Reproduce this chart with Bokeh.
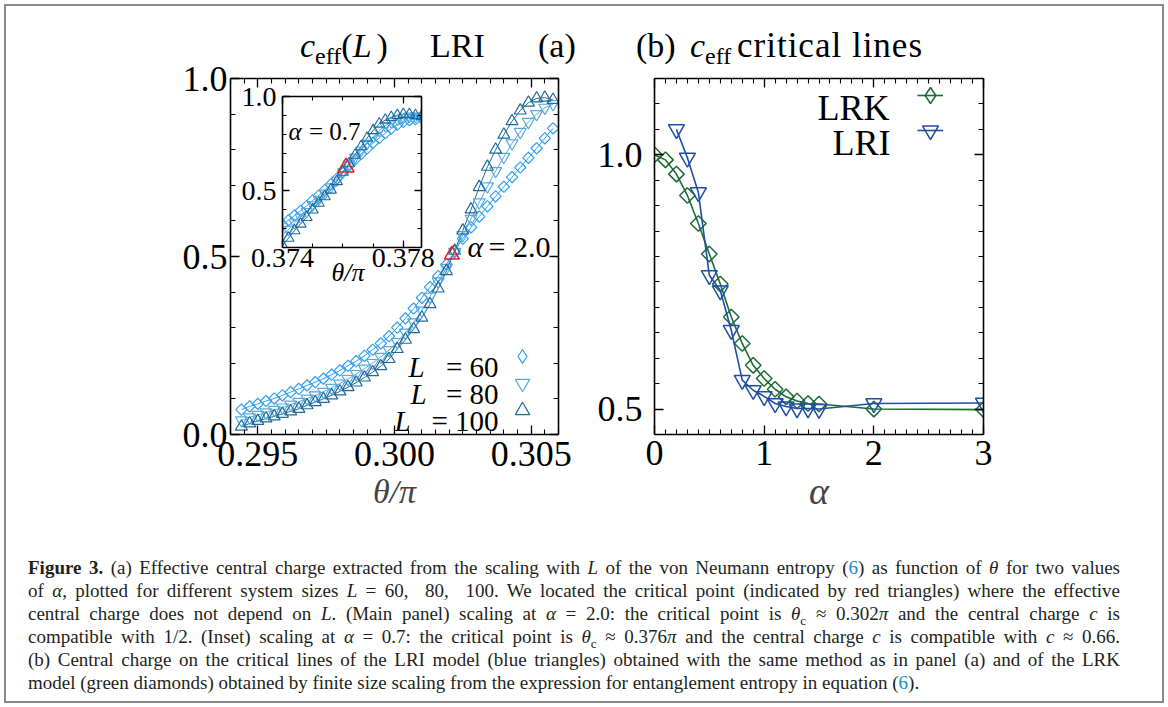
import numpy as np
from bokeh.plotting import figure
from bokeh.models import (Range1d, FixedTicker, LinearAxis, Label, Legend, LegendItem,
                          GridBox, Div, NumeralTickFormatter, CustomJSTickFormatter)
from bokeh.embed import file_html
from bokeh.resources import INLINE

FONT = "Liberation Serif"

# ---------------- data: panel (a) main, alpha = 2.0 ----------------
theta_a = [0.2944, 0.2947, 0.2950, 0.2953, 0.2956, 0.2959, 0.2962, 0.2965, 0.2968, 0.2971,
           0.2974, 0.2977, 0.2980, 0.2983, 0.2986, 0.2989, 0.2992, 0.2995, 0.2998, 0.3001,
           0.3004, 0.3007, 0.3010, 0.3013, 0.3016, 0.3019, 0.3022, 0.3025, 0.3028, 0.3031,
           0.3034, 0.3037, 0.3040, 0.3043, 0.3046, 0.3049, 0.3052, 0.3055, 0.3058]
c_L60 = [0.070, 0.079, 0.086, 0.094, 0.101, 0.110, 0.119, 0.128, 0.138, 0.147,
         0.157, 0.168, 0.180, 0.193, 0.206, 0.221, 0.238, 0.256, 0.276, 0.300,
         0.326, 0.354, 0.384, 0.414, 0.445, 0.478, 0.515, 0.550, 0.582, 0.612,
         0.641, 0.669, 0.696, 0.723, 0.750, 0.777, 0.804, 0.832, 0.860]
c_L80 = [0.040, 0.048, 0.055, 0.062, 0.069, 0.076, 0.084, 0.092, 0.101, 0.110,
         0.120, 0.131, 0.143, 0.156, 0.170, 0.185, 0.201, 0.218, 0.237, 0.260,
         0.286, 0.315, 0.348, 0.387, 0.430, 0.468, 0.513, 0.560, 0.606, 0.652,
         0.697, 0.740, 0.780, 0.818, 0.850, 0.878, 0.900, 0.918, 0.928]
c_L100 = [0.022, 0.031, 0.038, 0.045, 0.051, 0.058, 0.065, 0.072, 0.082, 0.091,
          0.100, 0.110, 0.121, 0.133, 0.146, 0.160, 0.175, 0.192, 0.212, 0.240,
          0.266, 0.296, 0.328, 0.366, 0.410, 0.459, 0.516, 0.573, 0.632, 0.695,
          0.752, 0.800, 0.842, 0.880, 0.910, 0.932, 0.944, 0.946, 0.940]
theta_crit_a = [0.3021]
c_crit_a = [0.505]

# ---------------- data: inset, alpha = 0.7 ----------------
theta_in = [0.3740, 0.3742, 0.3744, 0.3746, 0.3748, 0.3750, 0.3752, 0.3754, 0.3756, 0.3758,
            0.3760, 0.3762, 0.3764, 0.3766, 0.3768, 0.3770, 0.3772, 0.3774, 0.3776, 0.3778,
            0.3780, 0.3782, 0.3784, 0.3786]
ci_L60 = [0.320, 0.345, 0.370, 0.395, 0.420, 0.450, 0.475, 0.505, 0.535, 0.565,
          0.600, 0.635, 0.665, 0.695, 0.725, 0.755, 0.780, 0.805, 0.830, 0.850,
          0.865, 0.875, 0.880, 0.885]
ci_L80 = [0.265, 0.295, 0.330, 0.360, 0.390, 0.425, 0.455, 0.487, 0.520, 0.557,
          0.600, 0.640, 0.678, 0.715, 0.752, 0.787, 0.820, 0.845, 0.865, 0.880,
          0.890, 0.895, 0.895, 0.890]
ci_L100 = [0.210, 0.250, 0.290, 0.325, 0.360, 0.400, 0.435, 0.470, 0.505, 0.550,
           0.600, 0.645, 0.690, 0.735, 0.780, 0.820, 0.855, 0.875, 0.890, 0.900,
           0.905, 0.905, 0.900, 0.895]
theta_crit_in = [0.3761]
c_crit_in = [0.625]

# ---------------- data: panel (b) ----------------
alpha_lrk = [0.0, 0.1, 0.2, 0.3, 0.4, 0.5, 0.6, 0.7, 0.8, 0.9, 1.0, 1.1, 1.2, 1.3, 1.4, 1.5, 2.0, 3.0]
c_lrk = [1.000, 0.990, 0.962, 0.920, 0.865, 0.805, 0.746, 0.681, 0.629, 0.586,
         0.560, 0.539, 0.524, 0.516, 0.511, 0.510, 0.500, 0.499]
alpha_lri = [0.2, 0.3, 0.4, 0.5, 0.6, 0.7, 0.8, 0.9, 1.0, 1.1, 1.2, 1.3, 1.4, 1.5, 2.0, 3.0]
c_lri = [1.050, 0.994, 0.926, 0.763, 0.733, 0.655, 0.557, 0.537, 0.525, 0.511,
         0.505, 0.501, 0.501, 0.500, 0.511, 0.512]

# ticks
xt_a = [0.295, 0.300, 0.305]
yt_a = [0.0, 0.5, 1.0]
xt_in = [0.374, 0.378]
yt_in = [0.5, 1.0]
xt_b = [0, 1, 2, 3]
yt_b = [0.5, 1.0]

C60, C80, C100 = "#2f9ff2", "#5aa9db", "#1f6a9c"
CRED, CGRN, CBLU = "#ee1c25", "#1d6b34", "#1f4ea3"
NAN = [float("nan")]  # legend-only proxy glyph (never visible)

# page geometry of the plot frames (left, top, width, height) in pixels
FA = (230, 78, 328, 356)
FB = (654, 78, 329, 356)
FI = (282, 96, 139, 151)


def minors(lo, hi, step, majors):
    vals = np.round(np.arange(lo, hi + step / 2, step), 6)
    return [float(v) for v in vals if all(abs(v - m) > step / 10 for m in majors)]


def make_axis(ticks, minor, fmt, show, size, tick_in=9, minor_in=5):
    ax = LinearAxis(ticker=FixedTicker(ticks=ticks, minor_ticks=minor))
    ax.axis_line_color = "black"
    ax.axis_line_width = 1.6
    ax.major_tick_line_color = "black"
    ax.major_tick_line_width = 1.3
    ax.minor_tick_line_color = "black"
    ax.minor_tick_line_width = 1.1
    ax.major_tick_in = tick_in
    ax.major_tick_out = 0
    ax.minor_tick_in = minor_in
    ax.minor_tick_out = 0
    if show:
        ax.formatter = NumeralTickFormatter(format=fmt)
        ax.major_label_text_font = FONT
        ax.major_label_text_font_size = size
        ax.major_label_text_color = "black"
    else:
        ax.formatter = CustomJSTickFormatter(code="return ''")
        ax.major_label_standoff = 0
    return ax


def base_fig(xr, yr, ml, mt, mr, mb, **size):
    p = figure(x_range=xr, y_range=yr, output_backend="svg",
               toolbar_location=None, x_axis_location=None, y_axis_location=None,
               min_border_left=ml, min_border_right=mr, min_border_top=mt,
               min_border_bottom=mb, **size)
    p.grid.visible = False
    p.border_fill_color = None
    p.background_fill_color = None
    p.outline_line_color = None
    return p


def single_legend(p, renderers, vx, vy, gw, gh):
    p.add_layout(Legend(items=[LegendItem(label=" ", renderers=renderers)],
                        location=(vx, vy), orientation="vertical", glyph_width=gw,
                        glyph_height=gh, spacing=0, label_width=0, label_height=0,
                        label_standoff=0, label_text_font_size="1px", padding=0, margin=0,
                        border_line_alpha=0, background_fill_alpha=0), "center")


def texter(p, frame):
    fl, ft, fw, fh = frame
    xr, yr = p.x_range, p.y_range

    def put(px, py, text, size, style="normal", align="left"):
        x = xr.start + (px - fl) / fw * (xr.end - xr.start)
        y = yr.start + (ft + fh - py) / fh * (yr.end - yr.start)
        p.add_layout(Label(x=x, y=y, text=text, text_font=FONT, text_font_size=f"{size}px",
                           text_font_style=style, text_align=align,
                           text_baseline="alphabetic", text_color="black"))
    return put


# ---------------- panel (a) ----------------
pa = base_fig(Range1d(0.294, 0.306), Range1d(0.0, 1.0), 80, 58, 25, 100, width=433, height=514)
ax = make_axis(xt_a, minors(0.294, 0.306, 0.0005, xt_a), "0.000", True, "36px")
ax.major_label_standoff = 7
ax.axis_label = "θ/π"
ax.axis_label_text_font = FONT
ax.axis_label_text_font_size = "34px"
ax.axis_label_text_font_style = "italic"
ax.axis_label_standoff = 4
pa.add_layout(ax, "below")
ay = make_axis(yt_a, minors(0.0, 1.0, 0.1, yt_a), "0.0", True, "36px")
ay.major_label_standoff = 3
pa.add_layout(ay, "left")
pa.add_layout(make_axis(xt_a, minors(0.294, 0.306, 0.0005, xt_a), "", False, ""), "above")
pa.add_layout(make_axis(yt_a, minors(0.0, 1.0, 0.1, yt_a), "", False, ""), "right")

pa.line(theta_a, c_L60, line_color=C60, line_width=1)
pa.line(theta_a, c_L80, line_color=C80, line_width=1)
pa.line(theta_a, c_L100, line_color=C100, line_width=1)
pa.scatter(theta_a, c_L60, marker="square", angle=np.pi / 4, size=8,
           fill_color=None, line_color=C60, line_width=1.2)
r80 = pa.scatter(theta_a, c_L80, marker="inverted_triangle", size=12,
                 fill_color=None, line_color=C80, line_width=1.2)
r100 = pa.scatter(theta_a, c_L100, marker="triangle", size=12,
                  fill_color=None, line_color=C100, line_width=1.2)
pa.scatter(theta_crit_a, c_crit_a, marker="triangle", size=15, fill_color=None,
           line_color=CRED, line_width=1.5)
r60_key = pa.scatter(NAN, NAN, marker="diamond", size=12, fill_color=None,
                     line_color=C60, line_width=1.2)
single_legend(pa, [r60_key], 275, 61, 34, 34)
single_legend(pa, [r80], 274, 33, 36, 36)
single_legend(pa, [r100], 274, 6, 36, 36)

ta = texter(pa, FA)
ta(467, 246, "α", 30, "italic")
ta(550, 246, "= 2.0", 30, "normal", "right")
ta(408, 366, "L", 29, "italic")
ta(498, 366, "= 60", 29, "normal", "right")
ta(410, 393, "L", 29, "italic")
ta(498, 393, "= 80", 29, "normal", "right")
ta(394, 420, "L", 29, "italic")
ta(498, 420, "= 100", 29, "normal", "right")

# ---------------- inset ----------------
pi = base_fig(Range1d(0.374, 0.3786), Range1d(0.2, 1.0), 50, 25, 25, 50,
              frame_width=139, frame_height=151)
ix = make_axis(xt_in, minors(0.374, 0.3786, 0.001, xt_in), "0.000", True, "28px", 7, 4)
ix.major_label_standoff = 1
pi.add_layout(ix, "below")
iy = make_axis(yt_in, minors(0.2, 1.0, 0.1, yt_in), "0.0", True, "28px", 7, 4)
iy.major_label_standoff = 6
pi.add_layout(iy, "left")
pi.add_layout(make_axis(xt_in, minors(0.374, 0.3786, 0.001, xt_in), "", False, "", 7, 4), "above")
pi.add_layout(make_axis(yt_in, minors(0.2, 1.0, 0.1, yt_in), "", False, "", 7, 4), "right")
pi.background_fill_color = "white"
pi.line(theta_in, ci_L60, line_color=C60, line_width=1)
pi.line(theta_in, ci_L80, line_color=C80, line_width=1)
pi.line(theta_in, ci_L100, line_color=C100, line_width=1)
pi.scatter(theta_in, ci_L60, marker="square", angle=np.pi / 4, size=8,
           fill_color=None, line_color=C60, line_width=1.1)
pi.scatter(theta_in, ci_L80, marker="inverted_triangle", size=11,
           fill_color=None, line_color=C80, line_width=1.1)
pi.scatter(theta_in, ci_L100, marker="triangle", size=11,
           fill_color=None, line_color=C100, line_width=1.1)
pi.scatter(theta_crit_in, c_crit_in, marker="triangle", size=16, fill_color=None,
           line_color=CRED, line_width=1.5)
ti = texter(pi, FI)
ti(288, 131, "α", 25, "italic")
ti(360, 131, "= 0.7", 25, "normal", "right")

# ---------------- panel (b) ----------------
pb = base_fig(Range1d(0.0, 3.0), Range1d(0.45, 1.15), 74, 58, 25, 100, width=428, height=514)
bx = make_axis(xt_b, minors(0.0, 3.0, 0.1, xt_b), "0", True, "36px")
bx.major_label_standoff = 6
bx.axis_label = "α"
bx.axis_label_text_font = FONT
bx.axis_label_text_font_size = "38px"
bx.axis_label_text_font_style = "italic"
bx.axis_label_standoff = 2
pb.add_layout(bx, "below")
by = make_axis(yt_b, minors(0.45, 1.15, 0.05, yt_b), "0.0", True, "36px")
by.major_label_standoff = 12
pb.add_layout(by, "left")
pb.add_layout(make_axis(xt_b, minors(0.0, 3.0, 0.1, xt_b), "", False, ""), "above")
pb.add_layout(make_axis(yt_b, minors(0.45, 1.15, 0.05, yt_b), "", False, ""), "right")

l_lrk = pb.line(alpha_lrk, c_lrk, line_color=CGRN, line_width=1.6)
pb.scatter(alpha_lrk, c_lrk, marker="square", angle=np.pi / 4, size=11,
           fill_color=None, line_color=CGRN, line_width=1.5)
l_lri = pb.line(alpha_lri, c_lri, line_color=CBLU, line_width=1.6)
s_lri = pb.scatter(alpha_lri, c_lri, marker="inverted_triangle", size=16,
                   fill_color=None, line_color=CBLU, line_width=1.5)
k_lrk = pb.scatter(NAN, NAN, marker="diamond", size=16, fill_color=None,
                   line_color=CGRN, line_width=1.5)
single_legend(pb, [l_lrk], 263, 329, 26, 20)
single_legend(pb, [k_lrk], 256, 319, 40, 40)
single_legend(pb, [l_lri], 263, 294, 26, 20)
single_legend(pb, [s_lri], 256, 284, 40, 40)

tb = texter(pb, FB)
tb(817, 107, "LRK", 36)
tb(832, 142, "LRI", 36)

# ---------------- page: border, panel titles, caption ----------------


def span(x, y_base, size, html, extra=""):
    top = y_base - 0.8375 * size
    return (f"<div style='position:absolute;left:{x}px;top:{top:.1f}px;font-size:{size}px;"
            f"line-height:1;white-space:nowrap;color:black;{extra}'>{html}</div>")


SUBEFF = "<span style='font-size:24px;position:relative;top:7px'>eff</span>"
titles = (
    span(300, 57, 34, f"<i>c</i>{SUBEFF}(<i style='margin-right:5px'>L</i>)")
    + span(430, 57, 34, "LRI")
    + span(538, 57, 34, "(a)")
    + span(636, 57, 34, "(b)")
    + span(690, 57, 34, f"<i>c</i>{SUBEFF}")
    + span(737, 57, 35, "critical lines", "letter-spacing:1px")
    + span(348, 282, 26, "<i>θ/π</i>", "transform:translateX(-50%)")
)

B = "<span style='color:#1a8dc9'>6</span>"
SUB = "<sub style='font-size:70%;line-height:0'>c</sub>"
cap_lines = [
    f"<b>Figure 3.</b> (a) Effective central charge extracted from the scaling with <i>L</i> of the von Neumann entropy ({B}) as function of <i>θ</i> for two values",
    "of <i>α</i>, plotted for different system sizes <i>L</i> = 60, &nbsp;80, &nbsp;100. We located the critical point (indicated by red triangles) where the effective",
    f"central charge does not depend on <i>L</i>. (Main panel) scaling at <i>α</i> = 2.0: the critical point is <i>θ</i>{SUB} ≈ 0.302<i>π</i> and the central charge <i>c</i> is",
    f"compatible with 1/2. (Inset) scaling at <i>α</i> = 0.7: the critical point is <i>θ</i>{SUB} ≈ 0.376<i>π</i> and the central charge <i>c</i> is compatible with <i>c</i> ≈ 0.66.",
    "(b) Central charge on the critical lines of the LRI model (blue triangles) obtained with the same method as in panel (a) and of the LRK",
    f"model (green diamonds) obtained by finite size scaling from the expression for entanglement entropy in equation ({B}).",
]
just = "<div style='text-align:justify;text-align-last:justify;height:23px'>"
last = "<div style='text-align:left;height:23px'>"
body = "".join((just if i < 5 else last) + t + "</div>" for i, t in enumerate(cap_lines))
page_html = (
    "<div style=\"position:relative;width:1168px;height:707px;margin:0;padding:0;"
    "font-family:'Liberation Serif',serif\">"
    "<div style='position:absolute;left:4px;top:4px;width:1160px;height:699px;"
    "border:2px solid #8a8a8a;box-sizing:border-box'></div>"
    + titles +
    "<div style='position:absolute;left:28px;top:556px;width:1092px;"
    "font-size:19px;line-height:23px;color:#231f20'>"
    + body + "</div></div>")
page = Div(text=page_html, width=1168, height=707, margin=(0, 0, 0, 0))

grid = GridBox(children=[(page, 0, 0, 4, 4), (pa, 1, 1, 3, 3), (pb, 1, 3, 3, 1),
                         (pi, 2, 2, 2, 2)],
               rows=["20px", "51px", "485px", "151px"],
               cols=["150px", "82px", "348px", "588px"])

open("out.html", "w").write(file_html(grid, INLINE))
